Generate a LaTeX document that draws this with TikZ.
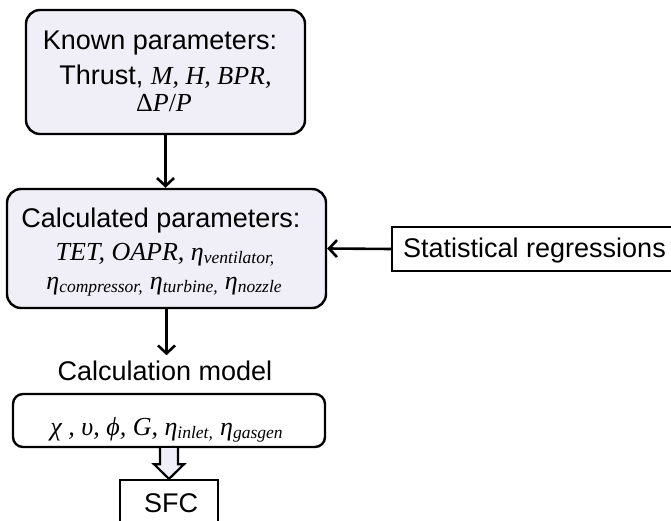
\documentclass[tikz,border=0pt]{standalone}
\usepackage{fontspec}
\setmainfont{Liberation Sans}
\newfontfamily\tnr{Liberation Serif}
\usetikzlibrary{arrows.meta,calc}
\definecolor{boxfill}{RGB}{240,238,246}
\newcommand{\mi}[1]{{\tnr\itshape #1}}
\newcommand{\mr}[1]{{\tnr #1}}
\newcommand{\sbs}[1]{\raisebox{-0.25ex}{\fontsize{17.5}{18}\selectfont\tnr\itshape #1}}
\tikzset{
  rbox/.style={draw=black, line width=2.4pt, rounded corners=14pt, fill=boxfill, inner sep=0pt},
  sbox/.style={draw=black, line width=2.2pt, fill=white, inner sep=0pt},
  lbl/.style={inner sep=0pt, anchor=base, font=\fontsize{27}{30}\selectfont},
  mlbl/.style={inner sep=0pt, anchor=base, font=\fontsize{26}{30}\selectfont},
  arr/.style={line width=2.6pt, -{Straight Barb[length=8pt,width=17pt,line width=2.6pt]}},
}
\begin{document}
\begin{tikzpicture}[x=1pt,y=-1pt]
\useasboundingbox (0,0) rectangle (671,521);
\clip (0,0) rectangle (671,521);
% boxes
\node[rbox, minimum width=279pt, minimum height=124pt] (known) at (165.5,72) {};
\node[rbox, minimum width=319pt, minimum height=119pt] (calc) at (166.5,248.5) {};
\node[rbox, fill=white, minimum width=312pt, minimum height=53pt, rounded corners=10pt] (model) at (169,420.5) {};
\node[sbox, minimum width=308pt, minimum height=44pt] (stat) at (546,249) {};
\node[sbox, minimum width=98pt, minimum height=70pt] (sfc) at (169,515) {};
% texts
\node[lbl] (t1) at (160,50) {Known parameters:};
\node[mlbl] (t2) at (165.5,85) {\fontsize{27}{30}\selectfont Thrust, \mi{\fontsize{26}{30}\selectfont M, H, BPR,}};
\node[mlbl] (t3) at (164,112) {\mr{Δ}\mi{P}\mr{/}\mi{P}};
\node[lbl] (t4) at (161,227) {Calculated parameters:};
\node[mlbl] (t5) at (165,260) {\mi{TET, OAPR, η}\sbs{ventilator,}};
\node[mlbl] (t6) at (164,289) {\mi{η}\sbs{compressor,} \mi{η}\sbs{turbine,} \mi{η}\sbs{nozzle}};
\node[lbl] (t7) at (165,380) {Calculation model};
\node[mlbl] (t8) at (166.5,435) {\mi{χ , υ, ϕ, G, η}\sbs{inlet,} \mi{η}\sbs{gasgen}};
\node[lbl] (t9) at (534.5,257) {Statistical regressions};
\node[lbl] (t10) at (171,512) {SFC};
% connectors
\draw[arr] (known.south) -- (known.south |- calc.north);
\draw[arr] (stat.west) -- (calc.east);
\draw[arr] (calc.south) -- ($(calc.south |- t7.north)+(0,-5)$);
\draw[line width=2.2pt, fill=boxfill, line join=miter]
  ($(model.south)+(-9,0)$) -- ($(model.south)+(-9,16)$) -- ($(model.south)+(-15,16)$)
  -- (model.south |- sfc.north) -- ($(model.south)+(15,16)$) -- ($(model.south)+(9,16)$)
  -- ($(model.south)+(9,0)$);
\end{tikzpicture}
\end{document}
